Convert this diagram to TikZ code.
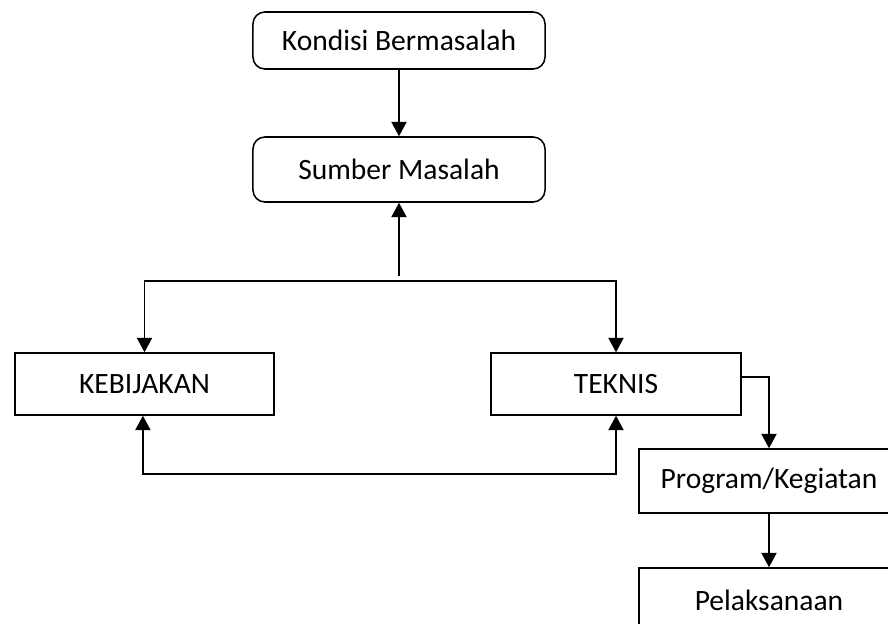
\documentclass[tikz,border=0pt]{standalone}
\usepackage{fontspec}
\setmainfont{Carlito}
\usetikzlibrary{arrows.meta, positioning}

\tikzset{
  box/.style={rectangle, draw, line width=1.1pt, inner sep=0pt, font=\fontsize{21}{25}\selectfont},
  rbox/.style={box, rounded corners=0.3cm},
  arr/.style={line width=1.1pt, -{Triangle[width=0.38cm, length=0.36cm]}},
  darr/.style={line width=1.1pt, {Triangle[width=0.38cm, length=0.36cm]}-{Triangle[width=0.38cm, length=0.36cm]}}
}

\begin{document}
\begin{tikzpicture}[x=0.025cm, y=-0.025cm]
            \clip (0,0) rectangle (888,624);
            \node[rbox, minimum width=7.3cm, minimum height=1.425cm] at (399, 40.5)  (kondisi) {Kondisi Bermasalah};
            \node[rbox, minimum width=7.3cm, minimum height=1.625cm] at (399, 169.5) (sumber) {Sumber Masalah};
            \node[box, minimum width=6.475cm, minimum height=1.55cm] at (144.5, 384) (kebijakan) {KEBIJAKAN};
            \node[box, minimum width=6.25cm, minimum height=1.55cm] at (616, 384)    (teknis) {TEKNIS};
            \node[box, minimum width=6.5cm, minimum height=1.6cm] at (769, 481)      (program) {Program/Kegiatan};
            \node[box, minimum width=6.5cm, minimum height=1.6cm] at (769, 600)      (pelaksanaan) {Pelaksanaan};

            \coordinate (split) at (399, 276);
            \coordinate (cabang) at (399, 281);

            \draw [arr] (kondisi) -- (sumber);
            \draw [arr] (split) -- (sumber);
            \draw [arr] (cabang) -| (kebijakan.north);
            \draw [arr] (cabang) -| (teknis.north);
            \draw [darr] ([xshift=-0.04cm]kebijakan.south) -- ++(0, 58) -| (teknis.south);
            \draw [arr] ([xshift=-0.05cm, yshift=0.18cm]teknis.east) -| (program.north);
            \draw [arr] (program) -- (pelaksanaan);
        \end{tikzpicture}
\end{document}
